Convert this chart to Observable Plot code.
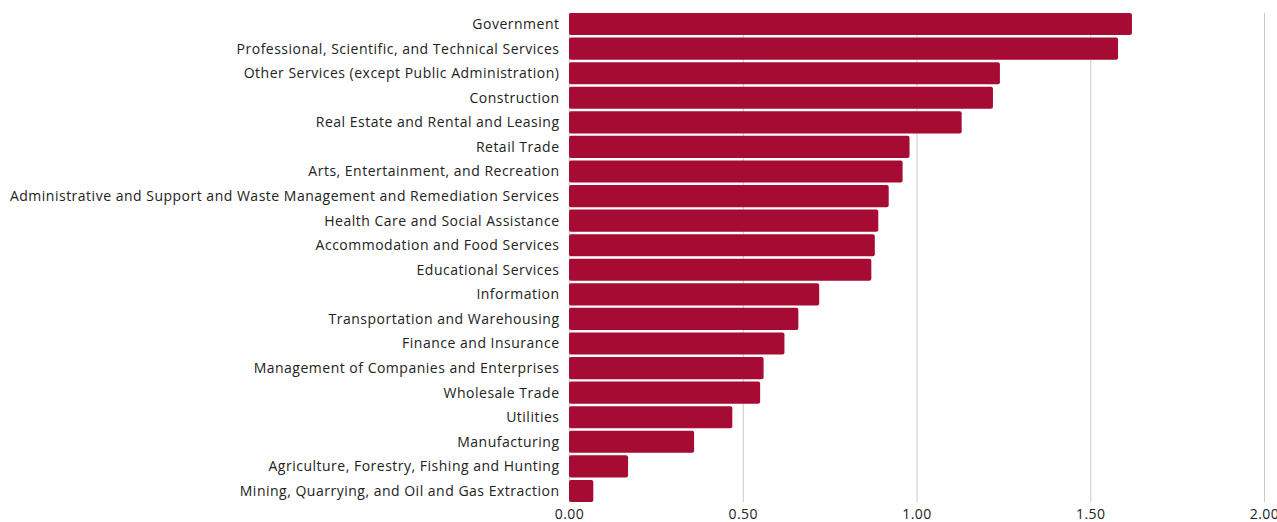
<!DOCTYPE html>
<html>
<head>
<meta charset="utf-8">
<script src="https://cdn.jsdelivr.net/npm/d3@7"></script>
<script src="https://cdn.jsdelivr.net/npm/@observablehq/plot@0.6"></script>
<style>
  html, body { margin: 0; padding: 0; background: #fff; }
  #chart svg { display: block; }
  #chart svg text { letter-spacing: 0.5px; }
</style>
</head>
<body>
<div id="chart"></div>
<script>
const industries = [
  "Government",
  "Professional, Scientific, and Technical Services",
  "Other Services (except Public Administration)",
  "Construction",
  "Real Estate and Rental and Leasing",
  "Retail Trade",
  "Arts, Entertainment, and Recreation",
  "Administrative and Support and Waste Management and Remediation Services",
  "Health Care and Social Assistance",
  "Accommodation and Food Services",
  "Educational Services",
  "Information",
  "Transportation and Warehousing",
  "Finance and Insurance",
  "Management of Companies and Enterprises",
  "Wholesale Trade",
  "Utilities",
  "Manufacturing",
  "Agriculture, Forestry, Fishing and Hunting",
  "Mining, Quarrying, and Oil and Gas Extraction"
];
const values = [1.62, 1.58, 1.24, 1.22, 1.13, 0.98, 0.96, 0.92, 0.89, 0.88, 0.87, 0.72, 0.66, 0.62, 0.56, 0.55, 0.47, 0.36, 0.17, 0.07];
const xTicks = [0, 0.5, 1, 1.5, 2];

const data = industries.map((name, i) => ({name, value: values[i]}));

const chart = Plot.plot({
  width: 1277,
  height: 522,
  marginLeft: 569,
  marginRight: 13,
  marginTop: 13,
  marginBottom: 20,
  style: {fontFamily: "'Open Sans', sans-serif", fontSize: "14px", color: "#222", background: "#fff"},
  x: {domain: [0, 2], ticks: xTicks, tickFormat: d3.format(".2f"), label: null},
  y: {domain: industries, label: null, paddingInner: 0.1, paddingOuter: 0, round: false},
  marks: [
    Plot.gridX(xTicks, {stroke: "#c8c8c8", strokeOpacity: 1, strokeWidth: 1}),
    Plot.barX(data, {x: "value", y: "name", fill: "#a50b33", rx: 2}),
    Plot.axisX({ticks: xTicks, tickSize: 0, tickPadding: 7, tickFormat: d3.format(".2f"), label: null, fontSize: 14}),
    Plot.axisY({tickSize: 0, tickPadding: 10, label: null, fontSize: 14})
  ]
});
document.getElementById("chart").appendChild(chart);
</script>
</body>
</html>
